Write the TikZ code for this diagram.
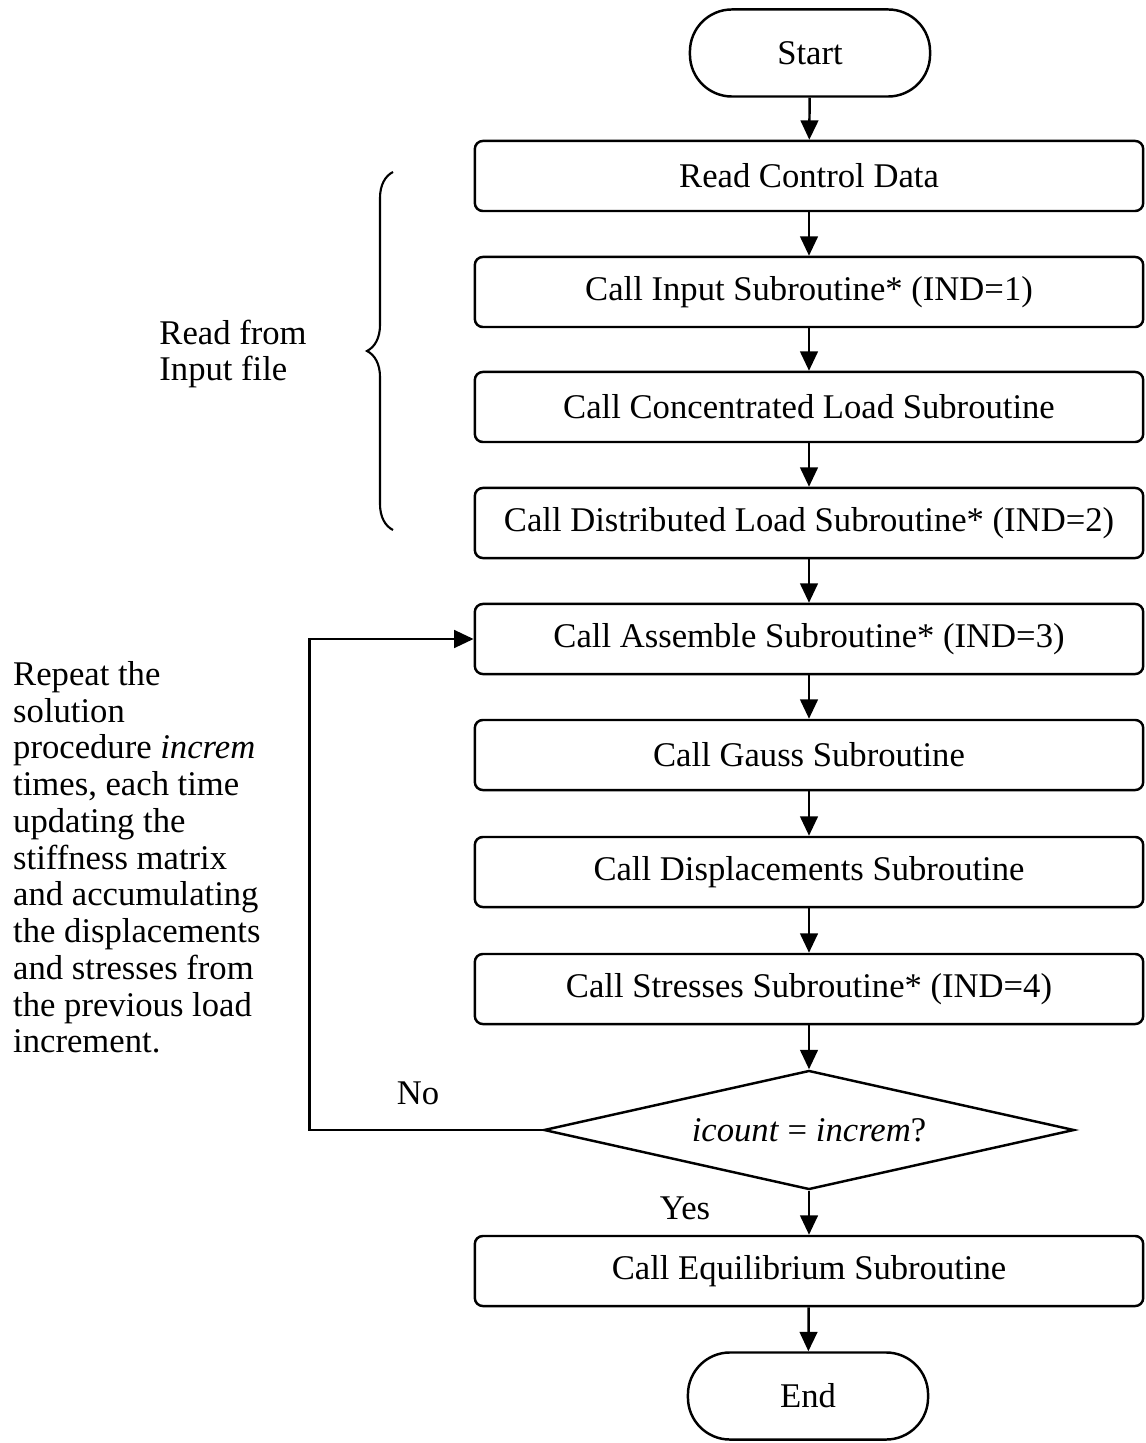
\documentclass[tikz,border=0pt]{standalone}
\usepackage{fontspec}
\setmainfont{Liberation Serif}
\usepackage{tikz}
\usetikzlibrary{shapes.geometric, arrows.meta, decorations.pathreplacing}

\begin{document}
\begin{tikzpicture}[x=0.01cm, y=-0.01cm,
          line width=0.7pt,
          font=\fontsize{9.85}{10.45}\selectfont,
          proc/.style={rectangle, draw, rounded corners=0.08cm,
                       minimum width=6.68cm, minimum height=0.70cm,
                       align=center},
          term/.style={rectangle, draw, rounded corners=0.42cm,
                       minimum width=2.4cm, minimum height=0.87cm},
          dec/.style={diamond, draw, aspect=4.45, minimum width=5.3cm,
                      minimum height=1.19cm, inner sep=0pt},
          flow/.style={-{Triangle[length=5.5pt, width=5pt]}},
          note/.style={align=left, inner sep=0pt}
        ]
        \useasboundingbox (0,0) rectangle (1145,1443);
        % Start / End
        \node[term] (start) at (810, 53)   {Start};
        \node[term] (stop)  at (808, 1396) {End};
        % Reading stage
        \node[proc] (rcd) at (809, 176) {Read Control Data};
        \node[proc] (inp) at (809, 292) {Call Input Subroutine* (IND=1)};
        \node[proc] (con) at (809, 407) {Call Concentrated Load Subroutine};
        \node[proc] (dis) at (809, 523) {Call Distributed Load Subroutine* (IND=2)};
        % Solution loop
        \node[proc] (asm) at (809, 639) {Call Assemble Subroutine* (IND=3)};
        \node[proc] (gau) at (809, 755) {Call Gauss Subroutine};
        \node[proc] (dsp) at (809, 872) {Call Displacements Subroutine};
        \node[proc] (str) at (809, 989) {Call Stresses Subroutine* (IND=4)};
        \node[dec]  (chk) at (809, 1130) {\textit{icount} = \textit{increm}?};
        \node[proc] (equ) at (809, 1271) {Call Equilibrium Subroutine};

        % Main flow
        \draw[flow] (start) -- (rcd);
        \draw[flow] (rcd) -- (inp);
        \draw[flow] (inp) -- (con);
        \draw[flow] (con) -- (dis);
        \draw[flow] (dis) -- (asm);
        \draw[flow] (asm) -- (gau);
        \draw[flow] (gau) -- (dsp);
        \draw[flow] (dsp) -- (str);
        \draw[flow] (str) -- (chk);
        \draw[flow] (chk) -- (equ);
        \draw[flow] (equ) -- (stop);

        % Loop back
        \draw[flow] (chk.west) -- ++(-233,0) |- (asm.west);
        \node (no)  at (418, 1093) {No};
        \node (yes) at (685, 1208) {Yes};

        % Brace over the input steps
        \draw[line width=0.6pt, decorate, decoration={brace, amplitude=0.26cm}]
              (393, 530) -- (393, 172);
        \node[note] (rdlbl) at (233, 354) {Read from\\Input file};

        % Loop note
        \node[note, anchor=north west] (rptlbl) at (12, 660)
              {Repeat the\\solution\\procedure \textit{increm}\\times, each time\\updating the\\stiffness matrix\\and accumulating\\the displacements\\and stresses from\\the previous load\\increment.};
      \end{tikzpicture}
\end{document}
